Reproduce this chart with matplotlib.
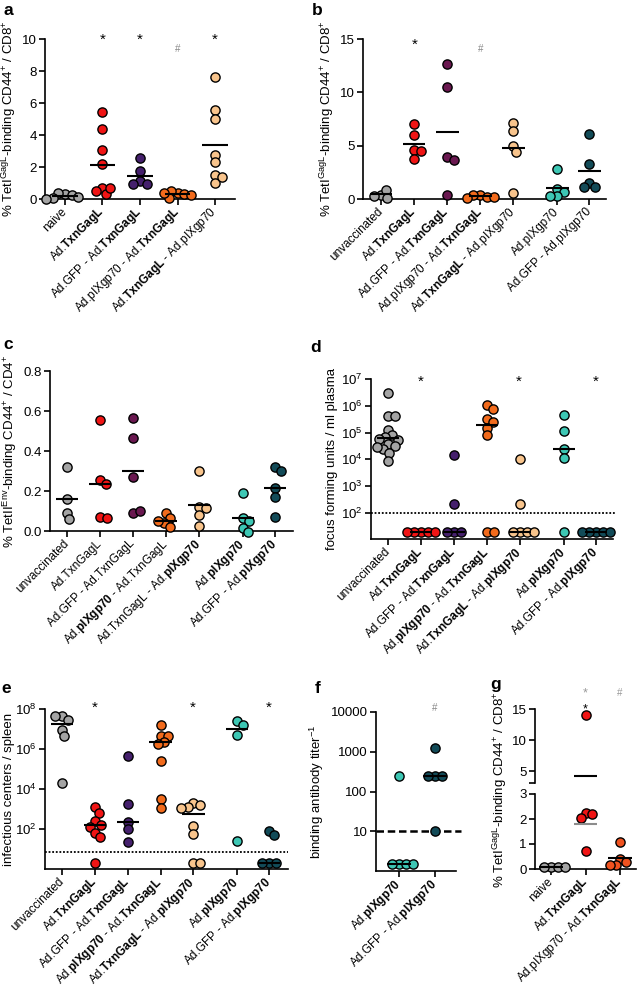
import numpy as np
import matplotlib.pyplot as plt
from matplotlib.ticker import FixedLocator, NullLocator, FixedFormatter

plt.rcParams['font.family'] = 'Liberation Sans'
plt.rcParams['mathtext.fontset'] = 'custom'
plt.rcParams['mathtext.rm'] = 'Liberation Sans'
plt.rcParams['mathtext.it'] = 'Liberation Sans:italic'
plt.rcParams['mathtext.bf'] = 'Liberation Sans:bold'
plt.rcParams['font.size'] = 9

W, H = 638, 994

# colours
GREY = '#a4a4a4'
RED = '#f01414'
INDIGO = '#45206d'
MAROON = '#6a1850'
ORANGE = '#f26b1c'
PEACH = '#f8c48c'
TEAL = '#3dc7b4'
DTEAL = '#124b58'
GORANGE = '#f0521f'

# tick labels
T = r'$\mathbf{TxnGagL}$'
P = r'$\mathbf{pIXgp70}$'
a_labels = ['naive', 'Ad.' + T, 'Ad.GFP - Ad.' + T, 'Ad.pIXgp70 - Ad.' + T, 'Ad.' + T + ' - Ad.pIXgp70']
b_labels = ['unvaccinated', 'Ad.' + T, 'Ad.GFP - Ad.' + T, 'Ad.pIXgp70 - Ad.' + T,
            'Ad.' + T + ' - Ad.pIXgp70', 'Ad.pIXgp70', 'Ad.GFP - Ad.pIXgp70']
c_labels = ['unvaccinated', 'Ad.TxnGagL', 'Ad.GFP - Ad.TxnGagL', 'Ad.' + P + ' - Ad.TxnGagL',
            'Ad.TxnGagL - Ad.' + P, 'Ad.' + P, 'Ad.GFP - Ad.' + P]
de_labels = ['unvaccinated', 'Ad.' + T, 'Ad.GFP - Ad.' + T, 'Ad.' + P + ' - Ad.' + T,
             'Ad.' + T + ' - Ad.' + P, 'Ad.' + P, 'Ad.GFP - Ad.' + P]
f_labels = ['Ad.' + P, 'Ad.GFP - Ad.' + P]
g_labels = ['naive', 'Ad.' + T, 'Ad.pIXgp70 - Ad.' + T]

ylab_gag = r'% TetI$^{\mathrm{GagL}}$-binding CD44$^{+}$ / CD8$^{+}$'
ylab_env = r'% TetII$^{\mathrm{Env}}$-binding CD44$^{+}$ / CD4$^{+}$'

# panel a
a_pos = [1, 2, 3, 4, 5]
a_cols = [GREY, RED, INDIGO, ORANGE, PEACH]
a_vals = [[0.3, 0.25, 0.35, 0.05, 0.1, 0.0],
          [5.42, 4.38, 3.04, 2.19, 0.67, 0.31, 0.52, 0.67],
          [2.56, 1.77, 1.1, 0.96, 0.96],
          [0.37, 0.3, 0.48, 0.06, 0.27, 0.35],
          [7.63, 5.58, 5.0, 2.77, 2.29, 1.52, 1.0, 1.35]]
a_lines = [0.17, 2.15, 1.46, 0.3, 3.4]

# panel b
b_pos = [1, 2, 3, 4, 5, 6.33, 7.3]
b_cols = [GREY, RED, MAROON, ORANGE, PEACH, TEAL, DTEAL]
b_vals = [[0.4, 0.87, 0.1, 0.25],
          [7.03, 5.97, 4.56, 4.47, 3.75],
          [12.66, 10.53, 3.94, 3.66, 0.41],
          [0.4, 0.2, 0.4, 0.2, 0.05],
          [7.13, 6.4, 5.0, 4.38, 0.56],
          [2.84, 0.94, 0.66, 0.25, 0.25],
          [6.1, 3.28, 1.5, 1.12, 1.12]]
b_lines = [0.47, 5.19, 6.25, 0.31, 4.75, 1.0, 2.6]

# panel c
c_cols = [GREY, RED, MAROON, ORANGE, PEACH, TEAL, DTEAL]
c_vals = [[0.322, 0.162, 0.092, 0.058],
          [0.553, 0.255, 0.233, 0.072, 0.063],
          [0.563, 0.463, 0.272, 0.092, 0.102],
          [0.092, 0.063, 0.042, 0.022, 0.05],
          [0.302, 0.122, 0.113, 0.08, 0.027],
          [0.192, 0.063, 0.05, 0.017, -0.005],
          [0.322, 0.302, 0.213, 0.172, 0.072]]
c_lines = [0.162, 0.233, 0.302, 0.052, 0.13, 0.063, 0.217]

# panel d (focus forming units)
d_cols = [GREY, RED, INDIGO, ORANGE, PEACH, TEAL, DTEAL]
d_vals = [[3.1e6, 4.1e5, 4.0e5, 1.3e5, 8e4, 7e4, 5.8e4, 5.5e4, 3.9e4, 3.1e4, 2.5e4, 2.8e4, 1.7e4, 9e3],
          [20, 20, 20, 20, 20],
          [1.5e4, 220, 20, 20, 20],
          [1.07e6, 7.9e5, 3.3e5, 2.5e5, 1.5e5, 7.9e4, 20, 20],
          [1e4, 220, 20, 20, 20, 20],
          [4.5e5, 1.1e5, 2.4e4, 1.1e4, 20],
          [20, 20, 20, 20, 20]]
d_lines = [6.3e4, 20, 20, 2e5, 20, 2.4e4, 20]
d_limit = 100

# panel e (infectious centers)
e_cols = [GREY, RED, INDIGO, ORANGE, PEACH, TEAL, DTEAL]
e_vals = [[4.3e7, 2.9e7, 4.3e7, 9.3e6, 4.3e6, 2.1e4],
          [1.26e3, 6.6e2, 2.4e2, 1.5e2, 1.3e2, 66, 38, 2],
          [4.7e5, 1.8e3, 2.3e2, 100, 23],
          [1.5e7, 4.3e6, 4.6e6, 2.2e6, 1.7e6, 2.6e5, 3e3, 1.1e3],
          [2e3, 1.6e3, 1.3e3, 1.1e3, 1.4e2, 56, 2, 2],
          [2.4e7, 1.6e7, 4.8e6, 26],
          [80, 48, 2, 2, 2]]
e_lines = [1.8e7, 1.5e2, 2.2e2, 2.2e6, 5.4e2, 1e7, 2]
e_limit = 7

# panel f (binding antibody titer)
f_pos = [1, 2]
f_cols = [TEAL, DTEAL]
f_vals = [[250, 1.5, 1.5, 1.5, 1.5],
          [1250, 250, 250, 250, 10]]
f_lines = [1.5, 250]
f_limit = 10

# panel g (broken axis)
g_pos = [1, 2, 3]
g_cols = [GREY, RED, GORANGE]
g_vals = [[0.1, 0.08, 0.08, 0.1],
          [14.0, 2.25, 2.2, 2.05, 0.72],
          [1.1, 0.42, 0.3, 0.18, 0.15]]
g_lines = [0.08, 4.24, 0.43]
g_line_excl = 1.8

fig = plt.figure(figsize=(W / 100, H / 100), dpi=100)


def box(l, r, t, b):
    return [l / W, 1 - b / H, (r - l) / W, (b - t) / H]


def style(ax, bottom=True):
    for s in ['top', 'right']:
        ax.spines[s].set_visible(False)
    ax.spines['left'].set_linewidth(1.2)
    ax.spines['bottom'].set_linewidth(1.2)
    if not bottom:
        ax.spines['bottom'].set_visible(False)
    ax.tick_params(width=1.2, length=4, labelsize=9.5, pad=2, color='k')
    ax.tick_params(axis='x', labelsize=8.5)
    ax.set_facecolor('none')


def swarm(ax, x, vals, gap=7.0):
    vals = np.asarray(vals, float)
    pix = ax.transData.transform(np.column_stack([np.full(len(vals), x), vals]))
    x0 = pix[0, 0]
    ys = pix[:, 1]
    placed = []
    offs = np.zeros(len(vals))
    for i in range(len(vals)):
        cands = [0.0]
        for px, py in placed:
            dy = ys[i] - py
            if abs(dy) < gap:
                dx = np.sqrt(gap ** 2 - dy ** 2)
                cands += [px + dx, px - dx]
        cands.sort(key=abs)
        c = cands[-1]
        for cc in cands:
            if all((cc - px) ** 2 + (ys[i] - py) ** 2 >= gap ** 2 - 1e-6 for px, py in placed):
                c = cc
                break
        placed.append((c, ys[i]))
        offs[i] = c
    return ax.transData.inverted().transform(np.column_stack([x0 + offs, ys]))[:, 0]


def groups(ax, pos, vals, cols, lines, gap=7.0):
    for p, v, c, m in zip(pos, vals, cols, lines):
        xs = swarm(ax, p, v, gap)
        ax.scatter(xs, v, s=44, c=c, edgecolors='k', linewidths=1.0, zorder=3, clip_on=False)
        ax.plot([p - 0.34, p + 0.34], [m, m], color='k', lw=1.5, zorder=4, solid_capstyle='butt',
                clip_on=False)


def xlabels(ax, pos, labels):
    ax.set_xticks(pos)
    ax.set_xticklabels(labels, rotation=45, ha='right', va='center', rotation_mode='anchor')
    ax.tick_params(axis='x', pad=4)


def star(ax, x, y, s='*', color='k', size=11):
    ax.text(x, y, s, ha='center', va='center', fontsize=size, color=color)


# ---------------- a
ax = fig.add_axes(box(45, 235, 39, 199))
style(ax)
ax.set_xlim(0.47, 5.53)
ax.set_ylim(0, 10)
ax.set_yticks([0, 2, 4, 6, 8, 10])
groups(ax, a_pos, a_vals, a_cols, a_lines)
xlabels(ax, a_pos, a_labels)
ax.set_ylabel(ylab_gag, fontsize=9.5, labelpad=3)
for x in [2, 3, 5]:
    star(ax, x, 9.94)
star(ax, 4, 9.4, '#', '#888888', 7)

# ---------------- b
ax = fig.add_axes(box(363, 606, 39, 199))
style(ax)
ax.set_xlim(0.45, 7.8)
ax.set_ylim(0, 15)
ax.set_yticks([0, 5, 10, 15])
groups(ax, b_pos, b_vals, b_cols, b_lines)
xlabels(ax, b_pos, b_labels)
ax.set_ylabel(ylab_gag, fontsize=9.5, labelpad=3)
star(ax, 2, 14.5)
star(ax, 4, 14.06, '#', '#888888', 7)

# ---------------- c
ax = fig.add_axes(box(50, 293, 371, 531))
style(ax)
ax.set_xlim(0.48, 7.85)
ax.set_ylim(0, 0.8)
ax.set_yticks([0, 0.2, 0.4, 0.6, 0.8])
ax.set_yticklabels(['0.0', '0.2', '0.4', '0.6', '0.8'])
groups(ax, b_pos, c_vals, c_cols, c_lines)
xlabels(ax, b_pos, c_labels)
ax.set_ylabel(ylab_env, fontsize=9.5, labelpad=3)

# ---------------- d
ax = fig.add_axes(box(371, 613, 379, 539))
style(ax)
ax.set_yscale('log')
ax.set_xlim(0.48, 7.82)
ax.set_ylim(10.7, 1e7)
dt = [1e2, 1e3, 1e4, 1e5, 1e6, 1e7]
ax.yaxis.set_major_locator(FixedLocator(dt))
ax.yaxis.set_major_formatter(FixedFormatter([r'10$^{%d}$' % k for k in range(2, 8)]))
ax.yaxis.set_minor_locator(NullLocator())
ax.axhline(d_limit, xmin=0, xmax=1.012, color='k', lw=1.3, ls=(0, (1, 1)), clip_on=False, zorder=2)
groups(ax, b_pos, d_vals, d_cols, d_lines)
xlabels(ax, b_pos, de_labels)
ax.set_ylabel('focus forming units / ml plasma', fontsize=9.5, labelpad=2)
for x in [2, 4.97, 7.3]:
    star(ax, x, 7.7e6)

# ---------------- e
ax = fig.add_axes(box(45, 288, 709, 869))
style(ax)
ax.set_yscale('log')
ax.set_xlim(0.48, 7.88)
ax.set_ylim(1, 1e8)
et = [1e2, 1e4, 1e6, 1e8]
ax.yaxis.set_major_locator(FixedLocator(et))
ax.yaxis.set_major_formatter(FixedFormatter([r'10$^{%d}$' % k for k in [2, 4, 6, 8]]))
ax.yaxis.set_minor_locator(NullLocator())
ax.axhline(e_limit, color='k', lw=1.3, ls=(0, (1, 1)), zorder=2)
groups(ax, b_pos, e_vals, e_cols, e_lines)
xlabels(ax, b_pos, de_labels)
ax.set_ylabel('infectious centers / spleen', fontsize=9.5, labelpad=0)
for x in [2, 4.97, 7.3]:
    star(ax, x, 1.1e8)

# ---------------- f
ax = fig.add_axes(box(376, 456, 712, 871))
style(ax)
ax.set_yscale('log')
ax.set_xlim(0.36, 2.58)
ax.set_ylim(1, 1e4)
ft = [10, 100, 1000, 10000]
ax.yaxis.set_major_locator(FixedLocator(ft))
ax.yaxis.set_major_formatter(FixedFormatter(['10', '100', '1000', '10000']))
ax.yaxis.set_minor_locator(NullLocator())
ax.axhline(f_limit, xmin=0, xmax=1.06, color='k', lw=1.8, ls=(0, (3, 1.5)), clip_on=False, zorder=2)
groups(ax, f_pos, f_vals, f_cols, f_lines)
xlabels(ax, f_pos, f_labels)
ax.set_ylabel(r'binding antibody titer$^{-1}$', fontsize=9.5, labelpad=3)
star(ax, 2, 1.26e4, '#', '#888888', 7)

# ---------------- g (broken y axis)
gu = fig.add_axes(box(535, 636, 709, 783))
gl = fig.add_axes(box(535, 636, 794, 869))
style(gu, bottom=False)
style(gl)
for a_ in (gu, gl):
    a_.set_xlim(0.54, 3.46)
gu.set_ylim(3.1, 15)
gl.set_ylim(0, 3)
gu.set_yticks([5, 10, 15])
gu.set_yticks([3.1], minor=True)
gu.tick_params(which='minor', length=4, width=1.2)
gl.set_yticks([0, 1, 2, 3])
gu.set_xticks([])
for p, v, c, m in zip(g_pos, g_vals, g_cols, g_lines):
    v = np.asarray(v)
    hi = v[v > 3.1]
    lo = v[v <= 3]
    if len(hi):
        gu.scatter(swarm(gu, p, hi), hi, s=44, c=c, edgecolors='k', linewidths=1.0, zorder=3, clip_on=False)
    if len(lo):
        gl.scatter(swarm(gl, p, lo), lo, s=44, c=c, edgecolors='k', linewidths=1.0, zorder=3, clip_on=False)
    target = gu if m > 3 else gl
    target.plot([p - 0.34, p + 0.34], [m, m], color='k', lw=1.5, zorder=4, solid_capstyle='butt')
gl.plot([2 - 0.34, 2 + 0.34], [g_line_excl, g_line_excl], color='#8c8c8c', lw=1.5, zorder=4,
        solid_capstyle='butt')
xlabels(gl, g_pos, g_labels)
fig.text(500 / W, 1 - 790 / H, ylab_gag, rotation=90, ha='center', va='center', fontsize=9.5)
star(gu, 2, 17.5, '*', '#999999', 9)
star(gu, 2, 15.0, '*', 'k', 9)
star(gu, 3, 17.6, '#', '#999999', 7)

# panel letters
for letter, x, y in [('a', 3, 15), ('b', 312, 15), ('c', 3, 349), ('d', 310, 352),
                     ('e', 1, 693), ('f', 315, 693), ('g', 490, 689)]:
    fig.text(x / W, 1 - y / H, letter, fontsize=12.5, fontweight='bold', ha='left', va='baseline')

fig.savefig('out.png', dpi=100)
